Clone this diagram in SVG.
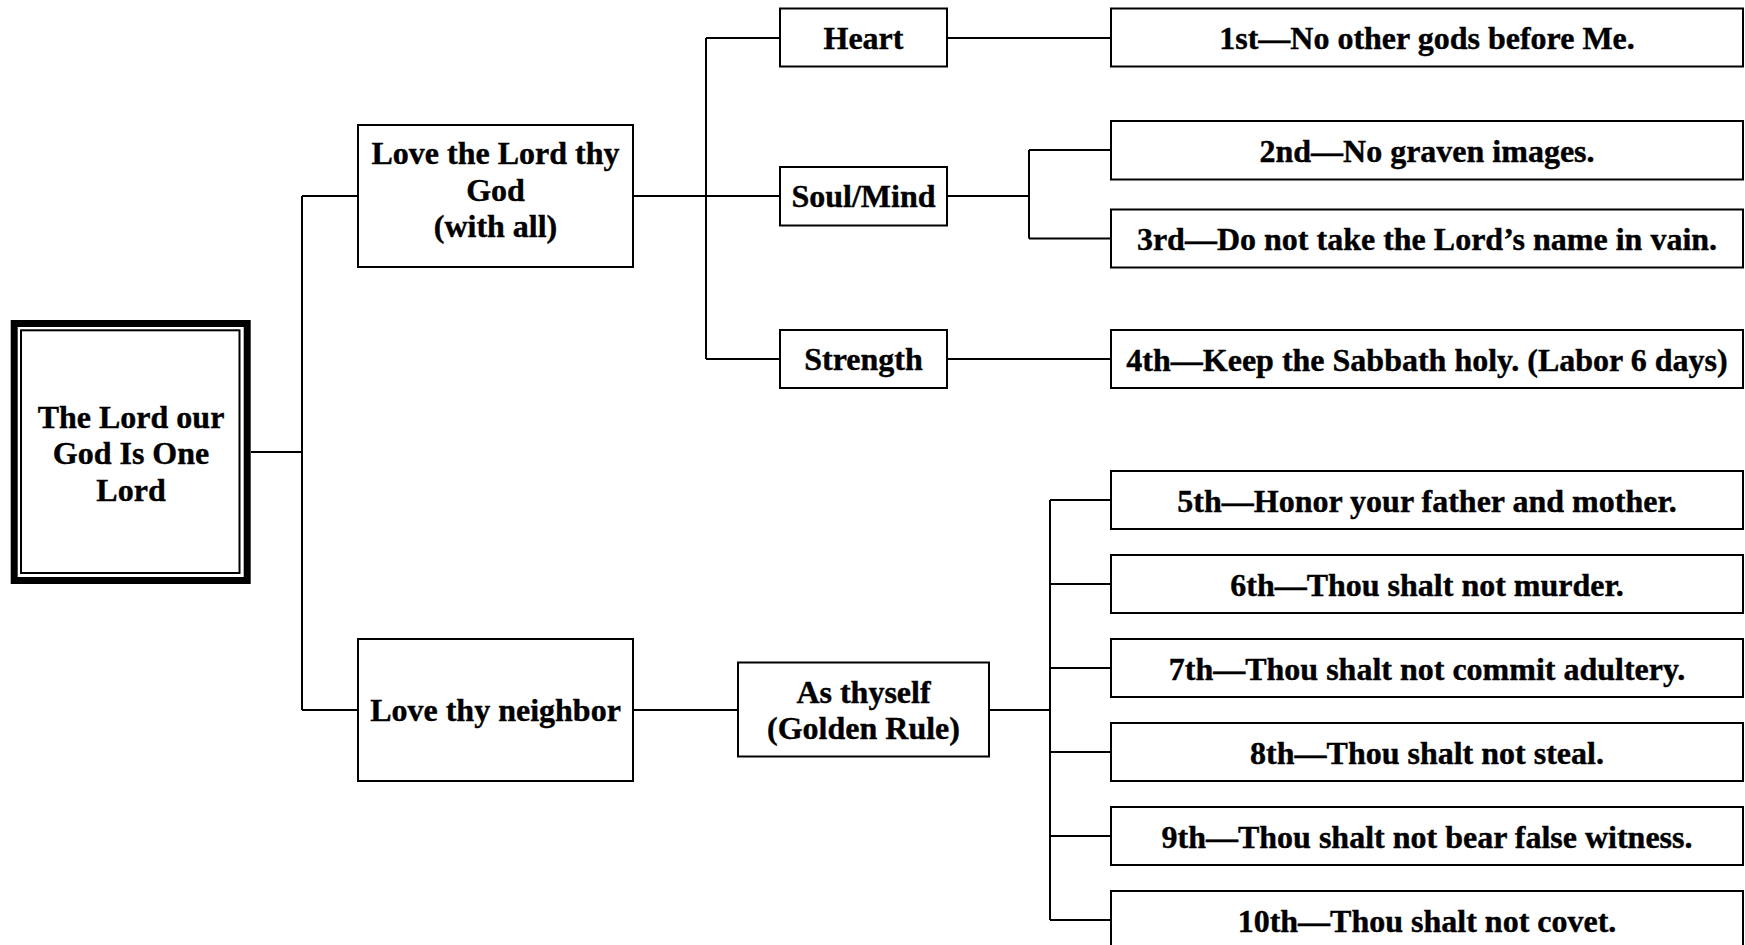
<svg xmlns="http://www.w3.org/2000/svg" width="1745" height="945" viewBox="0 0 1745 945">
<style>
.box{fill:#fff;stroke:#000;stroke-width:2}
.t{font-family:"Liberation Serif","Times New Roman",serif;font-weight:bold;font-size:32px;text-anchor:middle;fill:#000;stroke:#000;stroke-width:0.4}
.c{fill:none;stroke:#000;stroke-width:2}
</style>
<rect width="1745" height="945" fill="#fff"/>
<g id="connectors">
<path class="c" d="M251 452H302M302 196V710M302 196H358M302 710H358"/>
<path class="c" d="M633 196H780M706 38V359M706 38H780M706 359H780"/>
<path class="c" d="M947 38H1111M947 359H1111"/>
<path class="c" d="M947 196H1029M1029 150V238.5M1029 150H1111M1029 238.5H1111"/>
<path class="c" d="M633 710H738M989 710H1050M1050 500V920M1050 500H1111M1050 584H1111M1050 668H1111M1050 752H1111M1050 836H1111M1050 920H1111"/>
</g>
<g id="root">
<rect x="14.2" y="323.5" width="233" height="257" fill="#fff" stroke="#000" stroke-width="7"/>
<rect x="21" y="330.3" width="218.5" height="242.7" fill="none" stroke="#000" stroke-width="2"/>
<text class="t" x="131" y="427.5">The Lord our</text>
<text class="t" x="131" y="464.3">God Is One</text>
<text class="t" x="131" y="501">Lord</text>
</g>
<g id="love-lord">
<rect class="box" x="358" y="125" width="275" height="142"/>
<text class="t" x="495.5" y="164">Love the Lord thy</text>
<text class="t" x="495.5" y="200.5">God</text>
<text class="t" x="495.5" y="237">(with all)</text>
</g>
<g id="love-neighbor">
<rect class="box" x="358" y="639" width="275" height="142"/>
<text class="t" x="495.5" y="721">Love thy neighbor</text>
</g>
<g id="heart">
<rect class="box" x="780" y="8.5" width="167" height="58"/>
<text class="t" x="863.5" y="49.3">Heart</text>
</g>
<g id="soul-mind">
<rect class="box" x="780" y="167" width="167" height="58.5"/>
<text class="t" x="863.5" y="207.3">Soul/Mind</text>
</g>
<g id="strength">
<rect class="box" x="780" y="330" width="167" height="58"/>
<text class="t" x="863.5" y="370">Strength</text>
</g>
<g id="as-thyself">
<rect class="box" x="738" y="662.5" width="251" height="94"/>
<text class="t" x="863.5" y="702.7">As thyself</text>
<text class="t" x="863.5" y="739.3">(Golden Rule)</text>
</g>
<g id="c1">
<rect class="box" x="1111" y="8.5" width="632" height="58"/>
<text class="t" x="1427" y="49.3">1st—No other gods before Me.</text>
</g>
<g id="c2">
<rect class="box" x="1111" y="121" width="632" height="58.5"/>
<text class="t" x="1427" y="161.5">2nd—No graven images.</text>
</g>
<g id="c3">
<rect class="box" x="1111" y="209.5" width="632" height="58"/>
<text class="t" x="1427" y="250">3rd—Do not take the Lord’s name in vain.</text>
</g>
<g id="c4">
<rect class="box" x="1111" y="330" width="632" height="58"/>
<text class="t" x="1427" y="370.5">4th—Keep the Sabbath holy. (Labor 6 days)</text>
</g>
<g id="c5">
<rect class="box" x="1111" y="471" width="632" height="58"/>
<text class="t" x="1427" y="511.5">5th—Honor your father and mother.</text>
</g>
<g id="c6">
<rect class="box" x="1111" y="555" width="632" height="58"/>
<text class="t" x="1427" y="595.5">6th—Thou shalt not murder.</text>
</g>
<g id="c7">
<rect class="box" x="1111" y="639" width="632" height="58"/>
<text class="t" x="1427" y="679.5">7th—Thou shalt not commit adultery.</text>
</g>
<g id="c8">
<rect class="box" x="1111" y="723" width="632" height="58"/>
<text class="t" x="1427" y="763.5">8th—Thou shalt not steal.</text>
</g>
<g id="c9">
<rect class="box" x="1111" y="807" width="632" height="58"/>
<text class="t" x="1427" y="847.5">9th—Thou shalt not bear false witness.</text>
</g>
<g id="c10">
<rect class="box" x="1111" y="891" width="632" height="58"/>
<text class="t" x="1427" y="931.5">10th—Thou shalt not covet.</text>
</g>
</svg>
